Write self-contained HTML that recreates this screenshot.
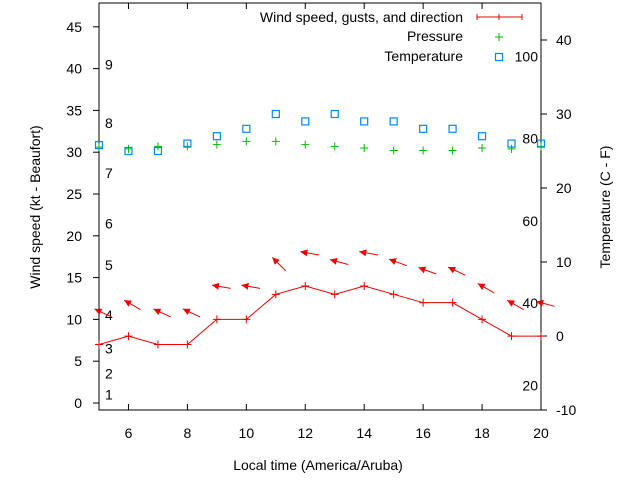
<!DOCTYPE html>
<html><head><meta charset="utf-8"><style>
body{margin:0;background:#fff}
svg{display:block;font-family:"Liberation Sans",sans-serif;font-size:14px}
</style></head><body>
<svg id="c" width="640" height="480" viewBox="0 0 640 480"></svg>
<script>
const hours=[5,6,7,8,9,10,11,12,13,14,15,16,17,18,19,20];
const windSpeed=[7,8,7,7,10,10,13,14,13,14,13,12,12,10,8,8];
const gusts=[11,12,11,11,14,14,17,18,17,18,17,16,16,14,12,12];
const windDir=[115,120,115,115,100,100,135,100,105,100,110,110,115,120,120,105];
const temperature=[25.8,25,25,26,27,28,30,29,30,29,29,28,28,27,26,26];
const pressure=[30.6,30.4,30.7,30.7,30.9,31.3,31.3,30.9,30.7,30.5,30.2,30.2,30.2,30.5,30.4,30.7];
const xTicks=[6,8,10,12,14,16,18,20];
const yTicks=[0,5,10,15,20,25,30,35,40,45];
const y2Ticks=[-10,0,10,20,30,40];
const fTicks=[20,40,60,80,100];
const bft=[[1,1],[2,3.5],[3,6.5],[4,10.5],[5,16.5],[6,21.5],[7,27.5],[8,33.5],[9,40.5]];
const L=99,R=541,T=3,B=410;
const X=h=>L+(h-5)*(R-L)/15;
const Y=v=>403-v*8.36;
const Y2=c=>336-c*7.4;
const svg=document.getElementById('c');const NS='http://www.w3.org/2000/svg';
function el(t,a,txt,p){const e=document.createElementNS(NS,t);for(const k in a)e.setAttribute(k,a[k]);if(txt!=null)e.textContent=txt;(p||svg).appendChild(e);return e;}
let e;
e=el('rect',{x:L,y:T,width:R-L,height:B-T,fill:'none',stroke:'#000'});

xTicks.forEach(h=>{el('line',{x1:X(h),x2:X(h),y1:B,y2:B-6,stroke:'#000'});el('line',{x1:X(h),x2:X(h),y1:T,y2:T+6,stroke:'#000'});
e=el('text',{x:X(h),y:438,'text-anchor':'middle'},h);});
yTicks.forEach(v=>{el('line',{x1:L,x2:L-6,y1:Y(v),y2:Y(v),stroke:'#000'});
e=el('text',{x:82,y:Y(v)+5,'text-anchor':'end'},v);});
y2Ticks.forEach(v=>{el('line',{x1:R,x2:R+6,y1:Y2(v),y2:Y2(v),stroke:'#000'});
e=el('text',{x:556,y:Y2(v)+5},v);});
fTicks.forEach(f=>{e=el('text',{x:538,y:Y2((f-32)*5/9)+5,'text-anchor':'end'},f);});
bft.forEach(b=>{e=el('text',{x:105,y:Y(b[1])+5},b[0]);});
e=el('text',{x:318,y:470,'text-anchor':'middle'},'Local time (America/Aruba)');
e=el('text',{x:40,y:207,'text-anchor':'middle',transform:'rotate(-90 40 207)'},'Wind speed (kt - Beaufort)');
e=el('text',{x:610,y:207,'text-anchor':'middle',transform:'rotate(-90 610 207)'},'Temperature (C - F)');
e=el('polyline',{points:hours.map((h,i)=>X(h)+','+Y(windSpeed[i])).join(' '),fill:'none',stroke:'#e00','stroke-width':1});

hours.forEach((h,i)=>{const x=X(h),y=Y(windSpeed[i]);e=el('path',{d:`M${x-4} ${y}H${x+4}M${x} ${y-4}V${y+4}`,stroke:'#e00'});});
hours.forEach((h,i)=>{const x=X(h),y=Y(gusts[i]);const a=windDir[i]*Math.PI/180;const dx=Math.sin(a),dy=-Math.cos(a);
const x1=x-dx*5,y1=y-dy*5,x2=x+dx*14,y2=y+dy*14;
const g=el('g',{});
el('line',{x1:x1,y1:y1,x2:x2,y2:y2,stroke:'#e00'},null,g);
const px=-dy,py=dx;
el('polygon',{points:`${x1},${y1} ${x1+dx*7+px*3.5},${y1+dy*7+py*3.5} ${x1+dx*7-px*3.5},${y1+dy*7-py*3.5}`,fill:'#e00'},null,g);});
hours.forEach((h,i)=>{const x=X(h),y=Y(pressure[i]);e=el('path',{d:`M${x-4} ${y}H${x+4}M${x} ${y-4}V${y+4}`,stroke:'#0b0'});});
hours.forEach((h,i)=>{const x=X(h),y=Y2(temperature[i]);e=el('rect',{x:x-3.5,y:y-3.5,width:7,height:7,fill:'none',stroke:'#08f','stroke-width':1.2});});
const lg=el('g',{});
el('text',{x:463,y:22,'text-anchor':'end'},'Wind speed, gusts, and direction',lg);
el('path',{d:'M477 17H522M477 14V20M522 14V20M499 14V20',stroke:'#e00'},null,lg);
el('text',{x:463,y:41,'text-anchor':'end'},'Pressure',lg);
el('path',{d:'M495 37H503M499 33V41',stroke:'#0b0'},null,lg);
el('text',{x:463,y:61,'text-anchor':'end'},'Temperature',lg);
el('rect',{x:495.5,y:53.5,width:7,height:7,fill:'none',stroke:'#08f','stroke-width':1.2},null,lg);
</script>
</body></html>
